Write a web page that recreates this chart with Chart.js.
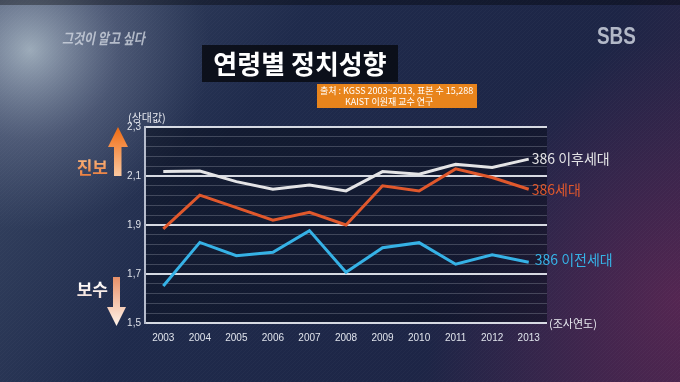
<!DOCTYPE html>
<html><head><meta charset="utf-8">
<script src="https://cdn.jsdelivr.net/npm/chart.js@4"></script>
<style>html,body{margin:0;padding:0;background:#1d2848;}#wrap{width:680px;height:382px;position:relative;}</style>
</head><body><div id="wrap"><canvas id="c" width="680" height="382"></canvas></div>
<script>
const years = ['2003','2004','2005','2006','2007','2008','2009','2010','2011','2012','2013'];
const seriesNames = ['386 이후세대','386세대','386 이전세대'];
const after386 = [2.118,2.12,2.077,2.046,2.063,2.039,2.118,2.107,2.148,2.135,2.169];
const gen386 = [1.884,2.022,1.971,1.92,1.952,1.9,2.06,2.039,2.129,2.094,2.046];
const before386 = [1.651,1.829,1.775,1.789,1.877,1.707,1.807,1.828,1.74,1.778,1.748];
const colors = ['#e4e4e6','#e0582c','#36b2e6'];
const yMin = 1.5, yMax = 2.3, yMajor = 0.2, yMinor = 0.04;
const titleText = '연령별 정치성향';
const sourceLines = ['출처 : KGSS 2003~2013, 표본 수 15,288','KAIST 이원재 교수 연구'];
const yUnit = '(상대값)', xUnit = '(조사연도)';
const upLabel = '진보', downLabel = '보수';
const KR = '"Noto Sans CJK KR","Noto Sans",sans-serif';

function isMajor(v){const k=(v-yMin)/yMajor;return Math.abs(k-Math.round(k))<1e-6;}

const bgPlugin = {
  id:'bg',
  beforeDraw(chart){
    const ctx=chart.ctx, W=chart.width, H=chart.height;
    ctx.save();
    let g=ctx.createLinearGradient(0,0,W,H);
    g.addColorStop(0,'#3c4a66');g.addColorStop(0.35,'#1f2b4c');g.addColorStop(0.7,'#1d2546');g.addColorStop(1,'#3a2448');
    ctx.fillStyle=g;ctx.fillRect(0,0,W,H);
    let r=ctx.createRadialGradient(30,50,0,30,50,180);
    r.addColorStop(0,'rgba(190,205,215,0.75)');r.addColorStop(0.5,'rgba(140,150,175,0.3)');r.addColorStop(1,'rgba(120,130,160,0)');
    ctx.fillStyle=r;ctx.fillRect(0,0,W,H);
    let r2=ctx.createRadialGradient(680,300,0,680,300,260);
    r2.addColorStop(0,'rgba(110,40,90,0.55)');r2.addColorStop(1,'rgba(90,40,90,0)');
    ctx.fillStyle=r2;ctx.fillRect(0,0,W,H);
    ctx.strokeStyle='rgba(255,255,255,0.025)';ctx.lineWidth=1;
    for(let x=-H;x<W;x+=4){ctx.beginPath();ctx.moveTo(x,H);ctx.lineTo(x+H,0);ctx.stroke();}
    ctx.fillStyle='rgba(0,0,0,0.35)';ctx.fillRect(0,0,W,5);
    // logos
    ctx.save();ctx.translate(62,38);ctx.scale(0.8,1);
    ctx.font='italic bold 15px '+KR;ctx.fillStyle='rgba(215,220,230,0.75)';ctx.textBaseline='middle';ctx.textAlign='left';
    ctx.fillText('그것이 알고 싶다',0,0);ctx.restore();
    ctx.textBaseline='middle';
    ctx.save();ctx.translate(597,38);ctx.scale(0.9,1.1);
    ctx.font='bold 21px "Liberation Sans",sans-serif';ctx.fillStyle='rgba(205,210,222,0.85)';ctx.textAlign='left';
    ctx.fillText('SBS',0,0);ctx.restore();
    // title box
    ctx.fillStyle='rgba(8,10,18,0.85)';ctx.fillRect(202,45,196,37);
    ctx.font='bold 26px '+KR;ctx.fillStyle='#ffffff';ctx.textAlign='center';
    ctx.fillText(titleText,300,64);
    // source box
    ctx.fillStyle='#e8841c';ctx.fillRect(317,84,160,24);
    ctx.font='9px '+KR;ctx.fillStyle='#ffffff';ctx.textAlign='left';
    ctx.fillText(sourceLines[0],320,91);
    ctx.fillText(sourceLines[1],345,102);
    // plot area background
    const a=chart.chartArea;
    ctx.fillStyle='rgba(10,14,30,0.55)';ctx.fillRect(a.left,a.top,a.right-a.left,a.bottom-a.top);
    // unit labels
    ctx.font='11px '+KR;ctx.fillStyle='#e8eaf0';ctx.textAlign='left';
    ctx.fillText(yUnit,128,118);
    ctx.fillText(xUnit,549,324);
    // side labels
    ctx.font='bold 17px '+KR;ctx.textAlign='right';
    let tg=ctx.createLinearGradient(0,160,0,178);tg.addColorStop(0,'#f8b078');tg.addColorStop(1,'#e87838');
    ctx.fillStyle=tg;ctx.fillText(upLabel,108,168);
    let tg2=ctx.createLinearGradient(0,282,0,300);tg2.addColorStop(0,'#ffffff');tg2.addColorStop(1,'#f0d8d0');
    ctx.fillStyle=tg2;ctx.fillText(downLabel,108,290);
    let ag=ctx.createLinearGradient(0,127,0,176);ag.addColorStop(0,'#f06a10');ag.addColorStop(1,'#fac8a0');
    ctx.fillStyle=ag;ctx.beginPath();
    ctx.moveTo(118,127);ctx.lineTo(128,147);ctx.lineTo(121.5,147);ctx.lineTo(121.5,176);ctx.lineTo(114,176);ctx.lineTo(114,147);ctx.lineTo(108,147);ctx.closePath();ctx.fill();
    let dg=ctx.createLinearGradient(0,277,0,326);dg.addColorStop(0,'#e89068');dg.addColorStop(1,'#fff4ea');
    ctx.fillStyle=dg;ctx.beginPath();
    ctx.moveTo(113,277);ctx.lineTo(120,277);ctx.lineTo(120,307);ctx.lineTo(126,307);ctx.lineTo(116.5,326);ctx.lineTo(107,307);ctx.lineTo(113,307);ctx.closePath();ctx.fill();
    ctx.restore();
  },
  afterDatasetsDraw(chart){
    const ctx=chart.ctx;ctx.save();
    ctx.font='14px '+KR;ctx.textBaseline='middle';ctx.textAlign='left';
    const offs=[[3,0],[3,0],[6,-3]];
    chart.data.datasets.forEach((ds,i)=>{
      const meta=chart.getDatasetMeta(i);const p=meta.data[meta.data.length-1];
      ctx.fillStyle=colors[i];
      ctx.fillText(ds.label,p.x+offs[i][0],p.y+offs[i][1]);
    });
    ctx.restore();
  }
};

new Chart(document.getElementById('c'),{
  type:'line',
  data:{labels:years,datasets:[
    {label:seriesNames[0],data:after386,borderColor:colors[0],borderWidth:3,pointRadius:0,tension:0},
    {label:seriesNames[1],data:gen386,borderColor:colors[1],borderWidth:3,pointRadius:0,tension:0},
    {label:seriesNames[2],data:before386,borderColor:colors[2],borderWidth:3,pointRadius:0,tension:0}
  ]},
  options:{
    responsive:false,animation:false,
    layout:{padding:{left:0,right:133,top:127,bottom:0}},
    plugins:{legend:{display:false},tooltip:{enabled:false}},
    scales:{
      x:{offset:true,grid:{display:false,drawTicks:false},border:{display:false},
        ticks:{color:'#e0e4ec',font:{family:'"Liberation Sans Narrow","Liberation Sans",sans-serif',size:10},padding:9,maxRotation:0,autoSkip:false},
        afterFit(s){s.height=59;}},
      y:{min:yMin,max:yMax,
        afterBuildTicks(s){const t=[];for(let k=0;k<=20;k++){t.push({value:+(yMin+k*yMinor).toFixed(4)});}s.ticks=t;},
        grid:{drawTicks:false,color:c=>isMajor(c.tick.value)?'rgba(235,238,245,0.9)':'rgba(150,155,170,0.35)',lineWidth:c=>isMajor(c.tick.value)?2:1},
        border:{display:true,color:'rgba(200,205,220,0.9)',width:2},
        ticks:{autoSkip:false,color:'#dfe2ea',padding:4,font:{family:'"Liberation Sans Narrow","Liberation Sans",sans-serif',size:10},
          callback:(v)=>isMajor(v)?v.toFixed(1).replace('.',','):''},
        afterFit(s){s.width=145;}}
    }
  },
  plugins:[bgPlugin]
});
</script></body></html>
